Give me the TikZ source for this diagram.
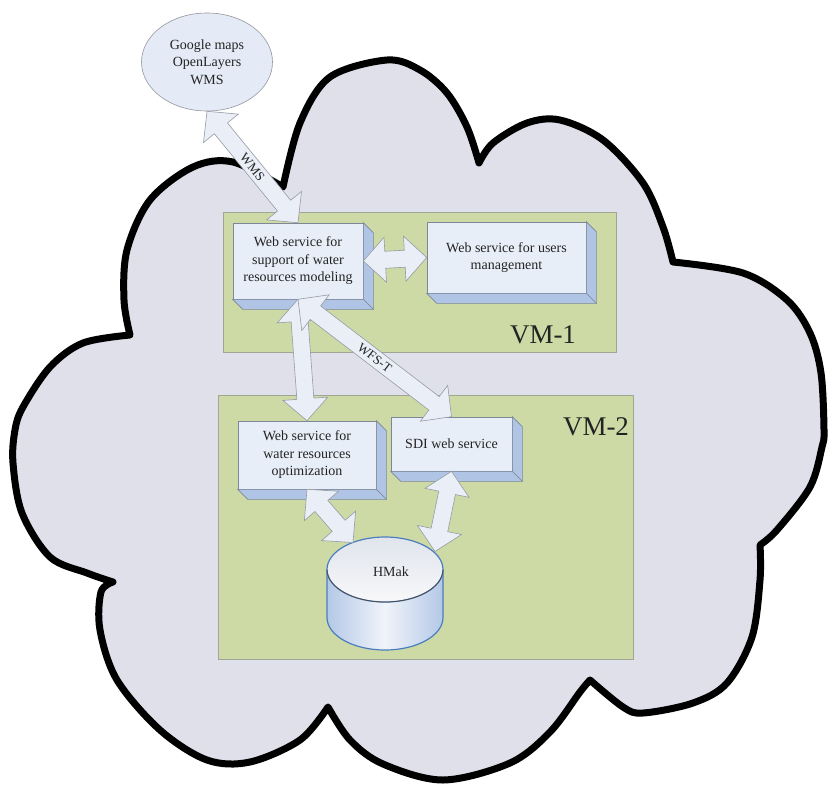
\documentclass[tikz,border=0pt]{standalone}
\usepackage{fontspec}
\setmainfont{Liberation Serif}
\usetikzlibrary{shapes.geometric,calc}
\definecolor{cloudfill}{RGB}{224,224,235}
\definecolor{vmgreen}{RGB}{205,218,166}
\definecolor{vmline}{RGB}{160,165,150}
\definecolor{facefront}{RGB}{232,238,248}
\definecolor{faceside}{RGB}{176,197,229}
\definecolor{faceline}{RGB}{125,135,150}
\definecolor{arrowfill}{RGB}{233,238,247}
\definecolor{arrowline}{RGB}{150,155,165}
\definecolor{cylline}{RGB}{75,125,190}
\definecolor{cylside}{RGB}{180,200,230}
\definecolor{cyltopa}{RGB}{224,228,236}
\definecolor{cyltopb}{RGB}{248,248,250}
\definecolor{ellfill}{RGB}{228,235,246}
\definecolor{ellline}{RGB}{150,150,158}
\definecolor{txt}{RGB}{35,35,35}
\newcommand\boxsides[1]{%
  \filldraw[sideface] (#1.north east) -- ++(10,10) -- ($(#1.south east)+(10,10)$) -- (#1.south east) -- cycle;
  \filldraw[sideface] (#1.south west) -- ++(10,10) -- ($(#1.south east)+(10,10)$) -- (#1.south east) -- cycle;}
% block double arrow between two named points: head length 22pt, head half width 22.5pt, shaft half width 8.5pt
\newcommand\blockarrow[2]{%
  \filldraw[barrow] (#1)
    -- ($(#1)!22pt!(#2)!22.5pt!90:(#2)$)
    -- ($(#1)!22pt!(#2)!8.5pt!90:(#2)$)
    -- ($(#2)!22pt!(#1)!8.5pt!-90:(#1)$)
    -- ($(#2)!22pt!(#1)!22.5pt!-90:(#1)$)
    -- (#2)
    -- ($(#2)!22pt!(#1)!22.5pt!90:(#1)$)
    -- ($(#2)!22pt!(#1)!8.5pt!90:(#1)$)
    -- ($(#1)!22pt!(#2)!8.5pt!-90:(#2)$)
    -- ($(#1)!22pt!(#2)!22.5pt!-90:(#2)$)
    -- cycle;}
\newcommand\arrowlabel[4]{% from, to, name, text
  \path let \p1=($(#2)-(#1)$), \n1={atan2(\y1,\x1)} in
    node[alabel, rotate=\n1] (#3) at ($(#1)!0.5!(#2)$) {#4};}
\begin{document}
\begin{tikzpicture}[x=1pt,y=-1pt,
  vmbox/.style={draw=vmline, fill=vmgreen, line width=0.8pt},
  frontface/.style={draw=faceline, fill=facefront, line width=0.6pt, align=center, text=txt,
    font=\fontsize{14}{17.5}\selectfont, inner sep=0pt},
  sideface/.style={draw=faceline, fill=faceside, line width=0.6pt},
  barrow/.style={draw=arrowline, fill=arrowfill, line width=0.6pt, line join=miter},
  alabel/.style={font=\fontsize{13}{15}\selectfont, text=txt, inner sep=0pt},
  vmlabel/.style={font=\fontsize{27}{30}\selectfont, text=txt, inner sep=0pt}]

\useasboundingbox (0,0) rectangle (829,787);
\fill[white] (0,0) rectangle (829,787);

% cloud
\draw[line width=7pt, line join=round, fill=cloudfill]
  plot[smooth, tension=0.55] coordinates {(283,187) (300,123) (330,77) (387,60) (420,70) (447,93) (467,127) (479,163)}
  -- plot[smooth, tension=0.55] coordinates {(479,163) (493,143) (527,123) (560,120) (603,140) (643,183) (663,227) (673,262)}
  -- plot[smooth, tension=0.55] coordinates {(673,262) (743,273) (787,300) (810,333) (821,373) (824,430) (822,447) (810,487) (777,530) (760,545)}
  -- plot[smooth, tension=0.55] coordinates {(760,545) (760,580) (752,637) (727,683) (693,703) (643,713) (623,707) (590,680)}
  -- plot[smooth, tension=0.55] coordinates {(590,680) (580,692) (550,732) (510,763) (443,780) (383,764) (350,740) (328,707)}
  -- plot[smooth, tension=0.55] coordinates {(328,707) (300,740) (250,762) (207,760) (160,730) (117,680) (100,630) (101,592) (113,582)}
  -- plot[smooth, tension=0.55] coordinates {(113,582) (87,573) (50,557) (22,513) (13,463) (15,430) (23,407) (50,367) (83,343) (130,335)}
  -- plot[smooth, tension=0.55] coordinates {(130,335) (124,300) (127,250) (150,200) (193,167) (233,162) (283,187)}
  -- cycle;

% external service
\node[ellipse, draw=ellline, fill=ellfill, line width=0.6pt, minimum width=131, minimum height=98,
  inner sep=0pt, align=center, text=txt, font=\fontsize{14}{17.5}\selectfont] (gm) at (207,62)
  {Google maps\\OpenLayers\\WMS};

% virtual machines
\draw[vmbox] (223,212) rectangle (616,352);
\node[vmlabel] (vm1) at (543,335) {VM-1};
\draw[vmbox] (218,395) rectangle (633,659);
\node[vmlabel] (vm2) at (596,427) {VM-2};

% services
\node[frontface, minimum width=130, minimum height=76] (m1) at (298,261)
  {Web service for\\support of water\\resources modeling};
\boxsides{m1}
\node[frontface, minimum width=159, minimum height=71] (um) at (506.5,257.5)
  {Web service for users\\management};
\boxsides{um}
\node[frontface, minimum width=138, minimum height=68] (opt) at (307,455)
  {Web service for\\water resources\\optimization};
\boxsides{opt}
\node[frontface, minimum width=121, minimum height=54] (sdi) at (451.5,444)
  {SDI web service};
\boxsides{sdi}

% database cylinder
\coordinate (hmtop) at (385,569.5);
\shade[left color=cylside, right color=cylside, middle color=white!80!cylside]
  (327,569.5) -- (327,617.5) arc[start angle=180, end angle=0, x radius=58, y radius=32.5] -- (443,569.5) -- cycle;
\draw[cylline, line width=1.2pt]
  (327,569.5) -- (327,617.5) arc[start angle=180, end angle=0, x radius=58, y radius=32.5] -- (443,569.5);
\shade[top color=cyltopa, bottom color=cyltopb] (hmtop) ellipse[x radius=58, y radius=32.5];
\draw[cylline, line width=1.2pt] (hmtop) ellipse[x radius=58, y radius=32.5];
\draw[black!70, line width=0.8pt] (327,569.5) arc[start angle=180, end angle=0, x radius=58, y radius=32.5];
\node[text=txt, font=\fontsize{14}{17}\selectfont] (hm) at (391,572) {HMak};
\coordinate (hmA) at ($(hmtop)+(-32,-27)$);
\coordinate (hmB) at ($(hmtop)+(50,-18)$);

% connectors
\blockarrow{gm.south}{m1.north}
\arrowlabel{gm.south}{m1.north}{lwms}{WMS}
\blockarrow{m1.east}{um.west}
\blockarrow{m1.south}{opt.north}
\blockarrow{m1.south}{sdi.north}
\arrowlabel{m1.south}{sdi.north}{lwfs}{WFS-T}
\blockarrow{opt.south}{hmA}
\blockarrow{sdi.south}{hmB}
\end{tikzpicture}
\end{document}
